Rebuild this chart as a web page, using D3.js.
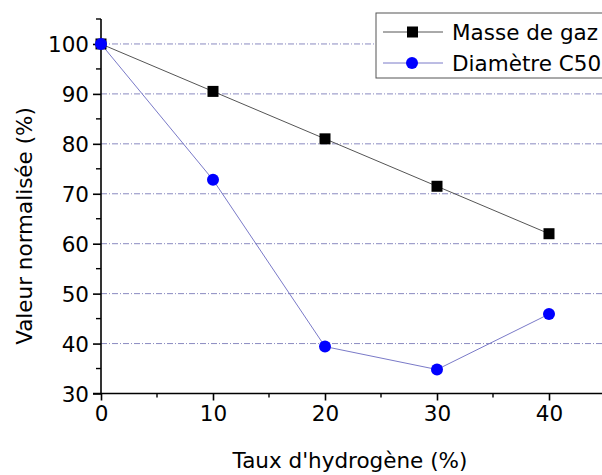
<!DOCTYPE html>
<html><head><meta charset="utf-8">
<script src="https://cdn.jsdelivr.net/npm/d3@7"></script>
<style>body{margin:0;background:#fff}svg{display:block}text{font-family:"DejaVu Sans",Verdana,sans-serif}</style>
</head><body>
<svg id="c" width="602" height="475"></svg>
<script>
const xValues = [0, 10, 20, 30, 40];
const masseGaz = [100, 90.5, 81, 71.5, 62];
const diametreC50 = [100, 72.8, 39.4, 34.8, 45.9];
const xTicks = [0, 10, 20, 30, 40];
const yTicks = [30, 40, 50, 60, 70, 80, 90, 100];
const gridTicks = [40, 50, 60, 70, 80, 90, 100];
const seriesNames = ["Masse de gaz", "Diamètre C50"];

const FS = 21.5;
const svg = d3.select("#c");
const x = d3.scaleLinear().domain([0, 45]).range([101, 605]);
const y = d3.scaleLinear().domain([30, 105]).range([393.5, 19]);

// grid
svg.append("g").selectAll("line").data(gridTicks).join("line")
  .attr("x1", x(0)).attr("x2", 602).attr("y1", d => y(d)).attr("y2", d => y(d))
  .attr("stroke", "#8a8ac0").attr("stroke-width", 1).attr("stroke-dasharray", "6,2,1,2");

// axes
const xAxis = d3.axisBottom(x).tickValues(xTicks).tickSize(6).tickFormat(d3.format("d"));
const gx = svg.append("g").attr("transform", `translate(0,${y(30)})`).call(xAxis);
gx.select(".domain").remove();
gx.append("line").attr("x1", x(0) - 8).attr("x2", 602).attr("stroke", "#000").attr("stroke-width", 1.6);
gx.selectAll(".tick line").attr("stroke-width", 1.6).attr("y1", 0).attr("y2", 7);
gx.selectAll("text").attr("font-size", FS).attr("fill", "#000").attr("dy", "0.71em").attr("y", 12);
svg.append("g").attr("transform", `translate(0,${y(30)})`).selectAll("line").data([5, 15, 25, 35]).join("line")
  .attr("x1", d => x(d)).attr("x2", d => x(d)).attr("y1", 0).attr("y2", 4).attr("stroke", "#000").attr("stroke-width", 1.4);

const yAxis = d3.axisLeft(y).tickValues(yTicks).tickSize(8).tickFormat(d3.format("d"));
const gy = svg.append("g").attr("transform", `translate(${x(0)},0)`).call(yAxis);
gy.select(".domain").remove();
gy.append("line").attr("y1", y(105)).attr("y2", y(30)).attr("stroke", "#000").attr("stroke-width", 1.6);
gy.selectAll(".tick line").attr("stroke-width", 1.6);
gy.selectAll("text").attr("font-size", FS).attr("fill", "#000").attr("x", -12).attr("dy", "0.36em");
svg.append("g").attr("transform", `translate(${x(0)},0)`).selectAll("line").data([35, 45, 55, 65, 75, 85, 95, 105]).join("line")
  .attr("x1", -5).attr("x2", 0).attr("y1", d => y(d)).attr("y2", d => y(d)).attr("stroke", "#000").attr("stroke-width", 1.4);

// titles
svg.append("text").attr("x", 350).attr("y", 468).attr("text-anchor", "middle").attr("font-size", FS).text("Taux d'hydrogène (%)");
svg.append("text").attr("transform", "translate(32,226) rotate(-90)").attr("text-anchor", "middle").attr("font-size", FS).text("Valeur normalisée (%)");

// lines
const line = d3.line().x((d, i) => x(xValues[i])).y(d => y(d));
svg.append("path").datum(masseGaz).attr("d", line).attr("fill", "none").attr("stroke", "#555").attr("stroke-width", 1);
svg.append("path").datum(diametreC50).attr("d", line).attr("fill", "none").attr("stroke", "#7a7ac8").attr("stroke-width", 1);

svg.append("g").selectAll("rect").data(masseGaz).join("rect")
  .attr("x", (d, i) => x(xValues[i]) - 5.5).attr("y", d => y(d) - 5.5).attr("width", 11).attr("height", 11).attr("fill", "#000");
svg.append("g").selectAll("circle").data(diametreC50).join("circle")
  .attr("cx", (d, i) => x(xValues[i])).attr("cy", d => y(d)).attr("r", 6).attr("fill", "#0000ff");

// legend
const lg = svg.append("g");
lg.append("rect").attr("x", 376).attr("y", 13).attr("width", 240).attr("height", 65).attr("fill", "#fff").attr("stroke", "#555").attr("stroke-width", 1);
const rows = [{n: seriesNames[0], c: "#555", y: 32, m: "sq"}, {n: seriesNames[1], c: "#7a7ac8", y: 63, m: "ci"}];
rows.forEach(r => {
  lg.append("line").attr("x1", 383).attr("x2", 443).attr("y1", r.y).attr("y2", r.y).attr("stroke", r.c);
  if (r.m === "sq") lg.append("rect").attr("x", 407).attr("y", r.y - 5.5).attr("width", 11).attr("height", 11).attr("fill", "#000");
  else lg.append("circle").attr("cx", 412).attr("cy", r.y).attr("r", 6).attr("fill", "#0000ff");
  lg.append("text").attr("x", 452).attr("y", r.y).attr("dy", "0.36em").attr("font-size", FS).text(r.n);
});
</script>
</body></html>
